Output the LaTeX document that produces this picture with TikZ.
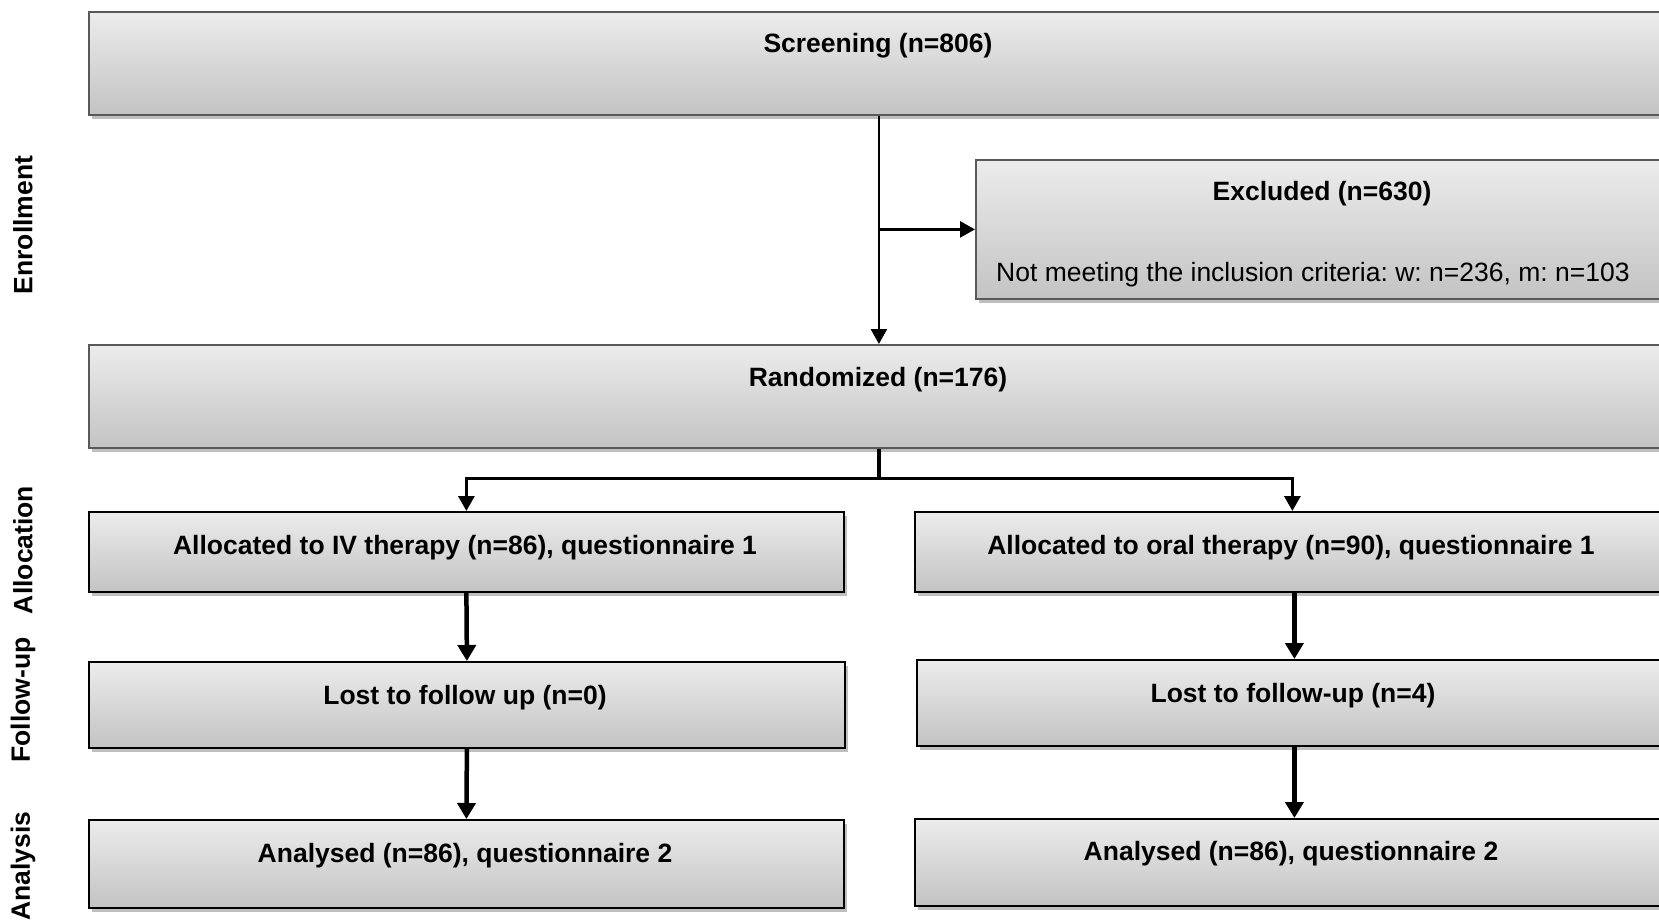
\documentclass[tikz,border=0pt]{standalone}
\usepackage{fontspec}
\setmainfont{Liberation Sans}
\usetikzlibrary{arrows.meta,shadows}
\frenchspacing
\tikzset{
  box/.style={draw=#1, line width=1.8pt, top color=gray!15, bottom color=gray!47,
    drop shadow={shadow xshift=3pt, shadow yshift=-4pt, fill=black, opacity=0.25},
    inner sep=0pt, anchor=north west},
  box/.default=black!65,
  ttl/.style={font=\bfseries\fontsize{26.5}{31}\selectfont, inner sep=0pt},
  txt/.style={font=\fontsize{26.5}{31}\selectfont, inner sep=0pt},
  side/.style={font=\bfseries\fontsize{26.5}{31}\selectfont, rotate=90, inner sep=0pt},
  conn/.style={line width=2.6pt, -{Triangle[width=16pt,length=15pt]}},
  thk/.style={line width=4.5pt, -{Triangle[width=18pt,length=16pt]}},
}
\begin{document}
\begin{tikzpicture}[x=1pt,y=-1pt]
\useasboundingbox (0,0) rectangle (1659,923);
\clip (0,0) rectangle (1659,923);
% boxes
\node[box, minimum width=1580pt, minimum height=103pt] (scr) at (88,11) {};
\node[box, minimum width=694pt, minimum height=139pt] (exc) at (975,159) {};
\node[box, minimum width=1580pt, minimum height=103pt] (rand) at (88,344) {};
\node[box=black, minimum width=755pt, minimum height=80pt] (a1) at (88,511) {};
\node[box=black, minimum width=755pt, minimum height=80pt] (a2) at (914,511) {};
\node[box=black, minimum width=756pt, minimum height=86pt] (l1) at (88,661) {};
\node[box=black, minimum width=755pt, minimum height=86pt] (l2) at (916,659) {};
\node[box=black, minimum width=755pt, minimum height=88pt] (n1) at (88,819) {};
\node[box=black, minimum width=755pt, minimum height=87pt] (n2) at (914,818) {};
% texts
\node[ttl] (scrt) at (878,46) {Screening (n=806)};
\node[ttl] (exct) at (1322,194) {Excluded (n=630)};
\node[txt, anchor=west] (excd) at (996,275) {Not meeting the inclusion criteria: w: n=236, m: n=103};
\node[ttl] (randt) at (878,380) {Randomized (n=176)};
\node[ttl] (a1t) at (465,548) {Allocated to IV therapy (n=86), questionnaire 1};
\node[ttl] (a2t) at (1291,548) {Allocated to oral therapy (n=90), questionnaire 1};
\node[ttl] (l1t) at (465,698) {Lost to follow up (n=0)};
\node[ttl] (l2t) at (1293,696) {Lost to follow-up (n=4)};
\node[ttl] (n1t) at (465,856) {Analysed (n=86), questionnaire 2};
\node[ttl] (n2t) at (1291,854) {Analysed (n=86), questionnaire 2};
% side labels
\node[side] (s1) at (23,225) {Enrollment};
\node[side] (s2) at (23,550) {Allocation};
\node[side] (s3) at (23,700) {Follow-up};
\node[side] (s4) at (23,866) {Analysis};
% connectors
\draw[conn] (scr.south) -- (rand.north);
\draw[conn] (exc.west -| scr.south) -- (exc.west);
\coordinate (split) at ([yshift=-30pt]rand.south);
\draw[line width=3.2pt] (rand.south) -- (split);
\draw[line width=3.2pt, -{Triangle[width=16pt,length=15pt]}] (split) -| (a1.north);
\draw[line width=3.2pt, -{Triangle[width=16pt,length=15pt]}] (split) -| (a2.north);
\draw[thk] (a1.south) -- (l1.north);
\draw[thk] (a2.south -| l2.north) -- (l2.north);
\draw[thk] (l1.south) -- (n1.north);
\draw[thk] (l2.south) -- (n2.north -| l2.south);
\end{tikzpicture}
\end{document}
